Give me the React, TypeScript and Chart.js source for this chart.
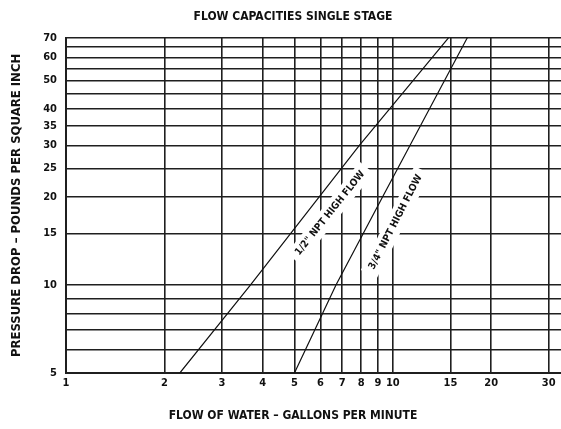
import { useEffect, useRef } from "react";
import { Chart, registerables } from "chart.js";

Chart.register(...registerables);

const FONT = "'Liberation Sans Narrow', 'DejaVu Sans Condensed', 'Roboto', sans-serif";

const chartTitle = "FLOW CAPACITIES SINGLE STAGE";
const xAxisTitle = "FLOW OF WATER – GALLONS PER MINUTE";
const yAxisTitle = "PRESSURE DROP – POUNDS PER SQUARE INCH";

const xTickValues = [1, 2, 3, 4, 5, 6, 7, 8, 9, 10, 15, 20, 30, 35];
const yGridValues = [5, 6, 7, 8, 9, 10, 15, 20, 25, 30, 35, 40, 45, 50, 55, 60, 65, 70];
const yTickLabels = [5, 10, 15, 20, 25, 30, 35, 40, 50, 60, 70];

const seriesNames = ['1/2" NPT HIGH FLOW', '3/4" NPT HIGH FLOW'];
const halfInchFlow = [2.23, 3.67, 7.9, 14.8];
const halfInchPressure = [5, 10, 30, 70];
const threeQuarterFlow = [5, 6.7, 9.3, 16.9];
const threeQuarterPressure = [5, 10, 20, 70];
const labelFlow = [6.43, 10.2];
const labelPressure = [17.6, 16.4];

const GRID = "#1f1f1f";

const lineLabelPlugin = {
  id: "lineLabels",
  beforeDatasetsDraw(chart: any) {
    const { ctx, scales } = chart;
    const xs = scales.x;
    const ys = scales.y;
    chart.data.datasets.forEach((ds: any, i: number) => {
      const pts = ds.data;
      const a = pts[0];
      const b = pts[pts.length - 1];
      const ax = xs.getPixelForValue(a.x);
      const ay = ys.getPixelForValue(a.y);
      const bx = xs.getPixelForValue(b.x);
      const by = ys.getPixelForValue(b.y);
      const angle = Math.atan2(by - ay, bx - ax);
      const cx = xs.getPixelForValue(labelFlow[i]);
      const cy = ys.getPixelForValue(labelPressure[i]);
      ctx.save();
      ctx.translate(cx, cy);
      ctx.rotate(angle);
      ctx.font = `bold 10px ${FONT}`;
      const w = ctx.measureText(seriesNames[i]).width;
      ctx.fillStyle = "#ffffff";
      ctx.fillRect(-w / 2 - 6, -9, w + 12, 18);
      ctx.fillStyle = "#111111";
      ctx.textAlign = "center";
      ctx.textBaseline = "middle";
      ctx.fillText(seriesNames[i], 0, 0);
      ctx.restore();
    });
  },
};

export default function App() {
  const canvasRef = useRef<HTMLCanvasElement | null>(null);

  useEffect(() => {
    const canvas = canvasRef.current;
    if (!canvas) return;
    const toPoints = (xs: number[], ys: number[]) => xs.map((v, i) => ({ x: v, y: ys[i] }));
    const chart = new Chart(canvas, {
      type: "line",
      data: {
        datasets: [
          {
            label: seriesNames[0],
            data: toPoints(halfInchFlow, halfInchPressure),
            borderColor: "#111111",
            borderWidth: 1.2,
            pointRadius: 0,
            fill: false,
            tension: 0,
          },
          {
            label: seriesNames[1],
            data: toPoints(threeQuarterFlow, threeQuarterPressure),
            borderColor: "#111111",
            borderWidth: 1.2,
            pointRadius: 0,
            fill: false,
            tension: 0,
          },
        ],
      },
      options: {
        animation: false,
        responsive: false,
        devicePixelRatio: 1,
        layout: { padding: 0 },
        plugins: {
          legend: { display: false },
          tooltip: { enabled: false },
          title: {
            display: true,
            text: chartTitle,
            color: "#111111",
            font: { family: FONT, size: 12, weight: "bold", lineHeight: 1.2 },
            padding: { top: 10, bottom: 13.4 },
          },
          subtitle: {
            display: true,
            position: "bottom",
            text: xAxisTitle,
            color: "#111111",
            font: { family: FONT, size: 12, weight: "bold", lineHeight: 1.2 },
            padding: { top: 0, bottom: 6 },
          },
        },
        scales: {
          x: {
            type: "logarithmic",
            min: 1,
            max: 39,
            afterBuildTicks: (scale: any) => {
              scale.ticks = xTickValues.map((v) => ({ value: v }));
            },
            afterFit: (scale: any) => {
              scale.height = 35.6;
            },
            grid: { color: GRID, lineWidth: 1.6, drawTicks: false },
            border: { display: true, color: GRID, width: 2 },
            ticks: {
              autoSkip: false,
              maxRotation: 0,
              padding: 4,
              color: "#111111",
              font: { family: FONT, size: 11, weight: "bold" },
              callback: (v: any) => String(v),
            },
          },
          y: {
            type: "logarithmic",
            min: 5,
            max: 70,
            afterBuildTicks: (scale: any) => {
              scale.ticks = yGridValues.map((v) => ({ value: v }));
            },
            afterFit: (scale: any) => {
              scale.width = 66;
            },
            grid: { color: GRID, lineWidth: 1.6, drawTicks: false },
            border: { display: true, color: GRID, width: 2 },
            title: {
              display: true,
              text: yAxisTitle,
              color: "#111111",
              font: { family: FONT, size: 13, weight: "bold", lineHeight: 1.2 },
              padding: { top: 9, bottom: 0 },
            },
            ticks: {
              autoSkip: false,
              padding: 9,
              color: "#111111",
              font: { family: FONT, size: 11, weight: "bold" },
              callback: (v: any) => (yTickLabels.includes(Number(v)) ? String(v) : ""),
            },
          },
        },
      },
      plugins: [lineLabelPlugin],
    } as any);
    return () => chart.destroy();
  }, []);

  return (
    <div
      style={{
        position: "absolute",
        left: 0,
        top: 0,
        width: 561,
        height: 429,
        overflow: "hidden",
        background: "#ffffff",
      }}
    >
      <canvas ref={canvasRef} width={586} height={429} style={{ width: 586, height: 429, display: "block" }} />
    </div>
  );
}
